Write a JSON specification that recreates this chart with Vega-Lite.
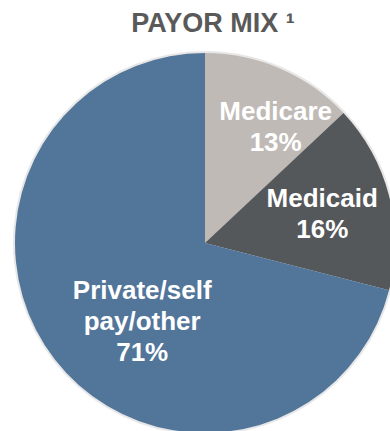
{
  "$schema": "https://vega.github.io/schema/vega-lite/v6.json",
  "autosize": "none",
  "padding": {"top": 40, "left": 0, "right": 0, "bottom": 0},
  "width": 410,
  "height": 406,
  "background": "white",
  "title": {
    "text": "PAYOR MIX ¹",
    "font": "Liberation Sans",
    "fontSize": 27,
    "fontWeight": "bold",
    "color": "#595959",
    "anchor": "middle",
    "baseline": "alphabetic",
    "offset": -19,
    "dx": 8
  },
  "data": {
    "values": [
      {"category": "Medicare", "value": 13, "order": 1, "label": "Medicare\n13%"},
      {"category": "Medicaid", "value": 16, "order": 2, "label": "Medicaid\n16%"},
      {"category": "Private/self pay/other", "value": 71, "order": 3, "label": "Private/self\npay/other\n71%"}
    ]
  },
  "encoding": {
    "theta": {"field": "value", "type": "quantitative", "stack": true},
    "order": {"field": "order", "type": "quantitative", "sort": "ascending"}
  },
  "layer": [
    {
      "mark": {"type": "arc", "radius": 192, "fill": "#b0b0b0", "opacity": 0.3}
    },
    {
      "mark": {"type": "arc", "radius": 190},
      "encoding": {
        "color": {
          "field": "category",
          "type": "nominal",
          "scale": {
            "domain": ["Medicare", "Medicaid", "Private/self pay/other"],
            "range": ["#BFBAB6", "#55585B", "#52759A"]
          },
          "legend": null
        }
      }
    },
    {
      "mark": {
        "type": "text",
        "radius": 120,
        "font": "Liberation Sans",
        "fontSize": 26,
        "fontWeight": "bold",
        "fill": "white",
        "lineBreak": "\n",
        "lineHeight": 31,
        "align": "center",
        "baseline": "middle",
        "dx": {"expr": "datum.category === 'Medicare' ? 23 : datum.category === 'Medicaid' ? 1 : 32"},
        "dy": {"expr": "datum.category === 'Medicare' ? -21 : datum.category === 'Medicaid' ? -14 : -26"}
      },
      "encoding": {
        "text": {"field": "label", "type": "nominal"}
      }
    }
  ]
}
